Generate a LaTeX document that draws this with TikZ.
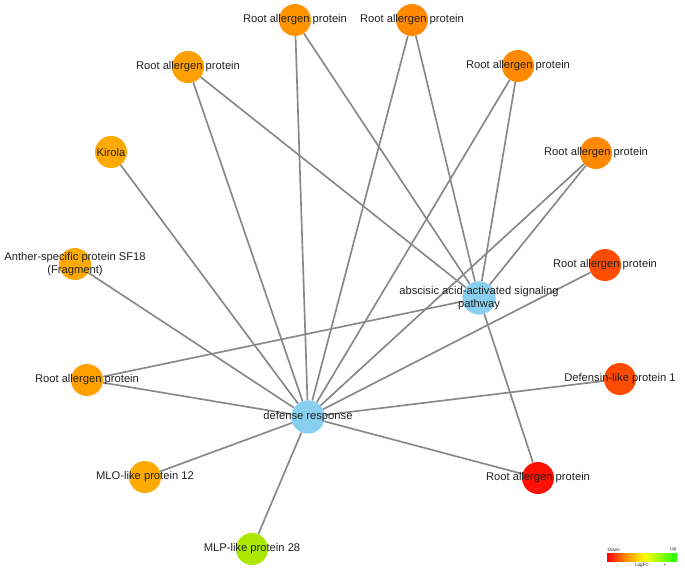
\documentclass[tikz,border=0pt]{standalone}
\usepackage{fontspec}
\setmainfont{Liberation Sans}
\usepackage{tikz}
\pgfdeclarelayer{bg}
\pgfsetlayers{bg,main}

\definecolor{goblue}{RGB}{137,207,240}
\definecolor{edgegray}{RGB}{136,136,136}
\definecolor{labelgray}{RGB}{34,34,34}
\definecolor{fcA}{RGB}{255,170,0}
\definecolor{fcB}{RGB}{255,160,0}
\definecolor{fcC}{RGB}{255,148,0}
\definecolor{fcD}{RGB}{255,137,0}
\definecolor{fcE}{RGB}{255,76,0}
\definecolor{fcF}{RGB}{255,16,0}
\definecolor{fcG}{RGB}{170,232,0}
\pgfdeclarehorizontalshading{fcbar}{100bp}{color(0bp)=(red); color(25bp)=(red);
  color(37bp)=(orange); color(52bp)=(yellow); color(75bp)=(green!85!lime); color(100bp)=(green!85!lime)}

\tikzset{
  gene/.style={circle,draw=none,minimum size=24pt,inner sep=0pt},
  term/.style={circle,draw=none,fill=goblue,minimum size=25pt,inner sep=0pt},
  lbl/.style={inner sep=0.75pt,text=labelgray,font=\fontsize{8.4}{9.6}\selectfont,align=center},
  tiny/.style={lbl,font=\fontsize{3.5}{4}\selectfont,inner sep=0.3pt},
  edge/.style={draw=edgegray,line width=1.25pt},
}

\begin{document}
\begin{tikzpicture}[x=0.75pt,y=0.75pt,yscale=-1,xscale=1]
\useasboundingbox (0,0) rectangle (685,570);

%GO terms
\node [term] (def) at (308,417) {};
\node [term] (aba) at (479,298) {};

%Genes
\node [gene,fill=fcC] (g1) at (295,20) {};
\node [gene,fill=fcD] (g2) at (412,20) {};
\node [gene,fill=fcB] (g3) at (188,67) {};
\node [gene,fill=fcD] (g4) at (518,66) {};
\node [gene,fill=fcA] (g5) at (111,152) {};
\node [gene,fill=fcD] (g6) at (596,153) {};
\node [gene,fill=fcA] (g7) at (75,264) {};
\node [gene,fill=fcE] (g8) at (605,265) {};
\node [gene,fill=fcB] (g9) at (87,380) {};
\node [gene,fill=fcE] (g10) at (620,379) {};
\node [gene,fill=fcA] (g11) at (145,477) {};
\node [gene,fill=fcF] (g12) at (538,478) {};
\node [gene,fill=fcG] (g13) at (252,549) {};

%Edges
\begin{pgfonlayer}{bg}
\foreach \g in {g1,g2,g3,g4,g5,g6,g7,g8,g9,g10,g11,g12,g13}
  \draw [edge] (def) -- (\g);
\foreach \g in {g1,g2,g3,g4,g6,g9,g12}
  \draw [edge] (aba) -- (\g);
\end{pgfonlayer}

% Text Node
\node [lbl] (def-l) at (def) {defense response};
% Text Node
\node [lbl] (aba-l) at (aba) {abscisic acid-activated signaling\\pathway};
% Text Node
\node [lbl] (g1-l) at (g1) {Root allergen protein};
% Text Node
\node [lbl] (g2-l) at (g2) {Root allergen protein};
% Text Node
\node [lbl] (g3-l) at (g3) {Root allergen protein};
% Text Node
\node [lbl] (g4-l) at (g4) {Root allergen protein};
% Text Node
\node [lbl] (g5-l) at (g5) {Kirola};
% Text Node
\node [lbl] (g6-l) at (g6) {Root allergen protein};
% Text Node
\node [lbl] (g7-l) at (g7) {Anther-specific protein SF18\\(Fragment)};
% Text Node
\node [lbl] (g8-l) at (g8) {Root allergen protein};
% Text Node
\node [lbl] (g9-l) at (g9) {Root allergen protein};
% Text Node
\node [lbl] (g10-l) at (g10) {Defensin-like protein 1};
% Text Node
\node [lbl] (g11-l) at (g11) {MLO-like protein 12};
% Text Node
\node [lbl] (g12-l) at (g12) {Root allergen protein};
% Text Node
\node [lbl] (g13-l) at (g13) {MLP-like protein 28};

%Legend
\shade [shading=fcbar] (607,553) rectangle (677,561);
\node [tiny,anchor=south west] (lg-dn) at (607,552.5) {Down};
\node [tiny,anchor=south east] (lg-up) at (677,552.5) {Up};
\node [tiny] (lg-fc) at (642,565) {LogFC};
\node [tiny] (lg-mi) at (617,565.5) {-};
\node [tiny] (lg-pl) at (665,565.5) {+};

\end{tikzpicture}
\end{document}
